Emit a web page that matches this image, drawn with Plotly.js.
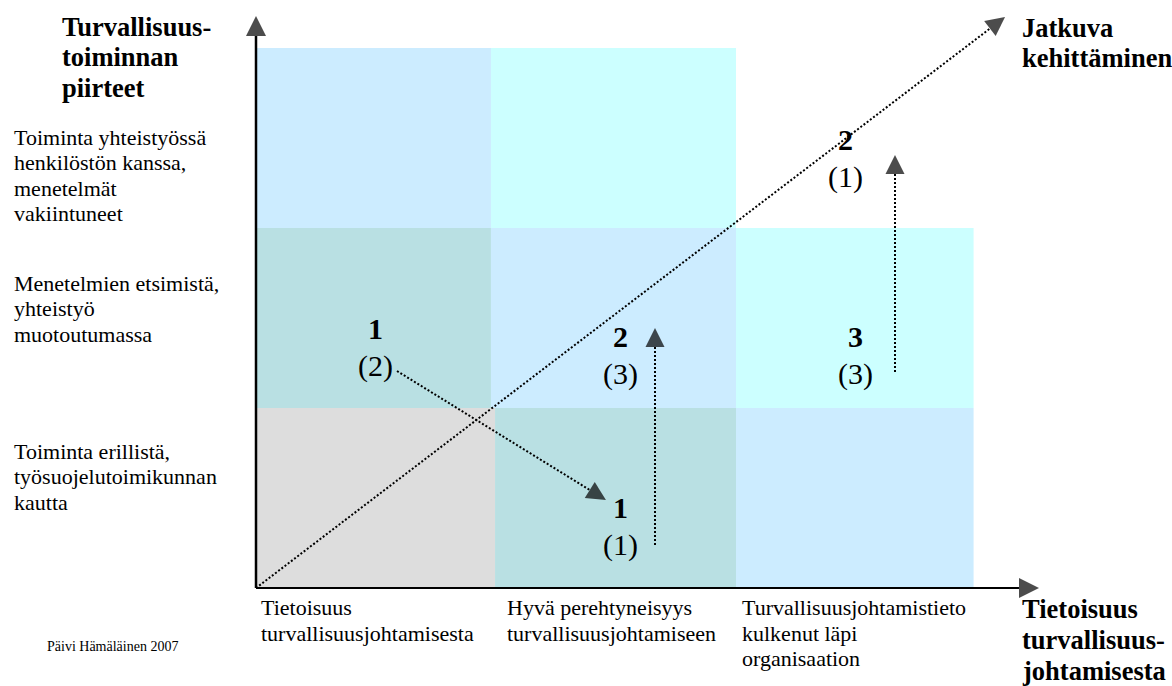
<!DOCTYPE html>
<html>
<head>
<meta charset="utf-8">
<script src="https://cdn.plot.ly/plotly-3.0.1.min.js"></script>
<style>html,body{margin:0;padding:0;background:#fff;}#chart{width:1172px;height:686px;}</style>
</head>
<body>
<div id="chart"></div>
<script>
// ---- Data (x: awareness level 0..3, y: safety-activity level 0..3) ----
const cellX0 = [0, 0.979, 0, 0.979, 2.0, 0, 0.996, 2.0];
const cellX1 = [0.979, 2.0, 0.979, 2.0, 2.99, 0.996, 2.0, 2.99];
const cellY0 = [2, 2, 1, 1, 1, 0, 0, 0];
const cellY1 = [3, 3, 2, 2, 2, 1, 1, 1];
const cellColor = ["#CCECFF", "#CCFFFF", "#B9E0E3", "#CCECFF", "#CCFFFF", "#DDDDDD", "#B9E0E3", "#CCECFF"];

const markNum = ["1", "2", "3", "2", "1"];
const markSub = ["(2)", "(3)", "(3)", "(1)", "(1)"];
const markX = [0.496, 1.517, 2.496, 2.458, 1.517];
const markY = [1.442, 1.40, 1.40, 2.489, 0.447];

const axisX0 = [0, 0];
const axisY0 = [0, 0];
const axisX1 = [0, 3.2625];
const axisY1 = [3.178, 0];

const arrowX0 = [0, 0.5875, 1.6625, 2.6625];
const arrowY0 = [0, 1.2056, 0.239, 1.2];
const arrowX1 = [3.121, 1.458, 1.6625, 2.6625];
const arrowY1 = [3.172, 0.489, 1.444, 2.406];

const yTitle = ["Turvallisuus-", "toiminnan", "piirteet"];
const xTitle = ["Tietoisuus", "turvallisuus-", "johtamisesta"];
const diagTitle = ["Jatkuva", "kehittäminen"];
const rowLabels = [
  ["Toiminta yhteistyössä", "henkilöstön kanssa,", "menetelmät", "vakiintuneet"],
  ["Menetelmien etsimistä,", "yhteistyö", "muotoutumassa"],
  ["Toiminta erillistä,", "työsuojelutoimikunnan", "kautta"]
];
const colLabels = [
  ["Tietoisuus", "turvallisuusjohtamisesta"],
  ["Hyvä perehtyneisyys", "turvallisuusjohtamiseen"],
  ["Turvallisuusjohtamistieto", "kulkenut läpi", "organisaation"]
];
const footer = "Päivi Hämäläinen 2007";

// ---- Layout helpers ----
const SERIF = "Liberation Serif, Times New Roman, serif";
const PXY = 1 / 180; // data units per pixel vertically
const annotations = [];
function addLines(lines, x, yTop, step, size, bold) {
  lines.forEach((t, i) => {
    annotations.push({
      x: x, y: yTop - i * step * PXY, xref: "x", yref: "y",
      text: bold ? "<b>" + t + "</b>" : t, showarrow: false,
      xanchor: "left", yanchor: "middle",
      font: {family: SERIF, size: size, color: "#000"}
    });
  });
}
addLines(yTitle, -0.8167, 3.1167, 30.3, 26.5, true);
addLines(diagTitle, 3.1833, 3.1111, 29.5, 26.5, true);
addLines(xTitle, 3.1833, -0.115, 31, 26.5, true);
const rowTop = [2.5056, 1.6944, 0.7611];
rowLabels.forEach((lines, i) => addLines(lines, -1.0167, rowTop[i], 25.5, 22, false));
const colLeft = [0.0125, 1.0375, 2.0167];
colLabels.forEach((lines, i) => addLines(lines, colLeft[i], -0.1083, 25.5, 22, false));
annotations.push({x: -0.8792, y: -0.3222, xref: "x", yref: "y", text: footer, showarrow: false,
  xanchor: "left", yanchor: "middle", font: {family: SERIF, size: 14, color: "#000"}});
markNum.forEach((n, i) => {
  annotations.push({x: markX[i], y: markY[i], xref: "x", yref: "y", text: "<b>" + n + "</b>",
    showarrow: false, xanchor: "center", yanchor: "middle", font: {family: SERIF, size: 30, color: "#000"}});
  annotations.push({x: markX[i], y: markY[i] - 37.5 * PXY, xref: "x", yref: "y", text: markSub[i],
    showarrow: false, xanchor: "center", yanchor: "middle", font: {family: SERIF, size: 30, color: "#000"}});
});

const shapes = cellColor.map((c, i) => ({
  type: "rect", xref: "x", yref: "y", layer: "below",
  x0: cellX0[i], x1: cellX1[i], y0: cellY0[i], y1: cellY1[i],
  fillcolor: c, line: {width: 0}
}));

const traces = [];
function arrowTrace(x0, y0, x1, y1, width, dash, head) {
  return {
    type: "scatter", mode: "lines+markers", x: [x0, x1], y: [y0, y1],
    line: {color: "#000", width: width, dash: dash},
    marker: {symbol: "arrow-up", size: [0, head], angleref: "previous", color: "#000", line: {width: 0}},
    hoverinfo: "skip", cliponaxis: false, showlegend: false
  };
}
axisX0.forEach((_, i) => traces.push(arrowTrace(axisX0[i], axisY0[i], axisX1[i], axisY1[i], i === 0 ? 2.5 : 2, "solid", 20)));
arrowX0.forEach((_, i) => traces.push(arrowTrace(arrowX0[i], arrowY0[i], arrowX1[i], arrowY1[i], 2, "2px,2px", 19)));

const layout = {
  width: 1172, height: 686,
  margin: {l: 0, r: 0, t: 0, b: 0},
  paper_bgcolor: "#fff", plot_bgcolor: "#fff",
  font: {family: SERIF, color: "#000"},
  xaxis: {range: [-1.0667, 3.8167], visible: false, fixedrange: true},
  yaxis: {range: [-0.5444, 3.2667], visible: false, fixedrange: true},
  shapes: shapes, annotations: annotations, showlegend: false
};
Plotly.newPlot("chart", traces, layout, {displayModeBar: false, staticPlot: true});
</script>
</body>
</html>
